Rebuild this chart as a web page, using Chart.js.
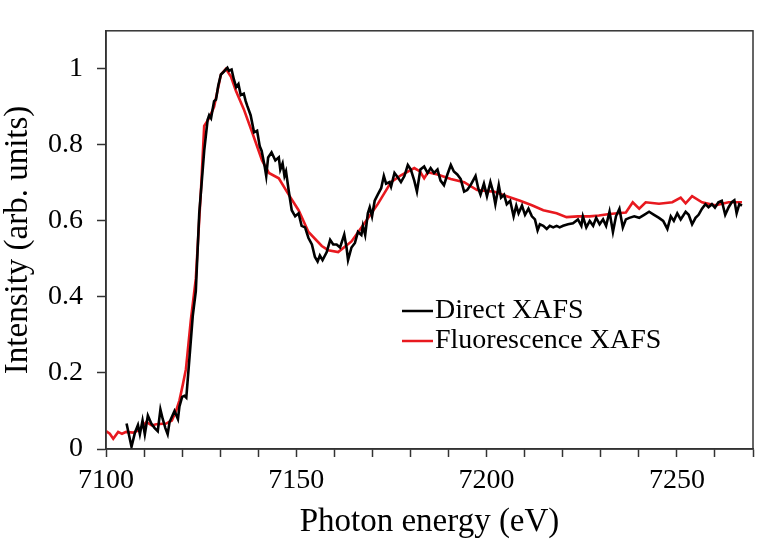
<!DOCTYPE html>
<html lang="en">
<head>
  <meta charset="UTF-8">
  <title>Direct vs Fluorescence XAFS</title>
  <script src="https://cdn.jsdelivr.net/npm/chart.js"></script>
  <style>
    html, body {
      margin: 0;
      padding: 0;
      background: #ffffff;
    }
    .chart-container {
      position: relative;
      width: 760px;
      height: 543px;
    }
  </style>
</head>
<body>

  <div class="chart-container">
    <canvas id="xafsChart"></canvas>
  </div>

  <script>
    // Direct XAFS (black, noisy)
    const directEnergy = [
      7105.4, 7106.7, 7107.6, 7108.4, 7108.9, 7109.6, 7110.2, 7111.0, 7111.9, 7112.8,
      7113.6, 7114.3, 7114.9, 7115.6, 7116.2, 7116.7, 7118.0, 7118.9, 7119.3, 7120.0,
      7120.6, 7121.1, 7121.9, 7122.8, 7123.6, 7124.5, 7125.8, 7126.7, 7127.1, 7127.6,
      7128.4, 7128.9, 7129.5, 7130.2, 7131.0, 7131.9, 7132.3, 7133.0, 7133.6, 7134.2,
      7134.8, 7135.4, 7136.2, 7136.7, 7137.1, 7138.0, 7138.9, 7139.7, 7140.4, 7140.9,
      7141.7, 7142.1, 7142.6, 7143.5, 7144.5, 7145.4, 7145.8, 7146.4, 7146.9, 7147.3,
      7148.0, 7148.8, 7149.7, 7150.6, 7151.4, 7152.3, 7153.2, 7154.1, 7154.9, 7155.6,
      7156.2, 7156.9, 7158.0, 7158.9, 7159.7, 7160.6, 7161.5, 7162.6, 7163.2, 7163.6,
      7164.5, 7165.4, 7166.2, 7167.1, 7167.5, 7168.1, 7168.8, 7169.3, 7169.9, 7170.6,
      7171.4, 7172.3, 7173.0, 7173.6, 7174.5, 7174.9, 7175.8, 7176.7, 7177.5, 7178.4,
      7179.3, 7180.1, 7181.0, 7181.7, 7182.6, 7183.6, 7184.5, 7185.3, 7186.2, 7187.1,
      7187.9, 7188.8, 7189.7, 7190.6, 7191.4, 7192.3, 7193.2, 7194.1, 7194.9, 7195.8,
      7197.1, 7197.8, 7198.4, 7199.3, 7200.1, 7201.0, 7201.7, 7202.3, 7203.2, 7203.8,
      7204.6, 7205.3, 7206.2, 7207.1, 7207.8, 7208.4, 7209.3, 7210.1, 7211.0, 7211.9,
      7212.7, 7213.4, 7214.0, 7214.9, 7215.8, 7216.6, 7217.5, 7218.4, 7219.2, 7220.1,
      7221.4, 7222.7, 7224.0, 7224.9, 7225.3, 7226.2, 7227.1, 7228.0, 7228.8, 7229.7,
      7230.6, 7231.4, 7232.3, 7233.2, 7234.0, 7234.9, 7235.8, 7236.6, 7237.5, 7238.8,
      7240.1, 7241.4, 7242.7, 7244.0, 7245.3, 7246.4, 7247.5, 7248.4, 7249.2, 7250.1,
      7251.0, 7252.3, 7253.1, 7254.0, 7254.9, 7255.7, 7256.6, 7257.5, 7258.3, 7259.2,
      7260.0, 7260.9, 7261.8, 7262.7, 7263.6, 7264.4, 7265.1, 7265.7, 7266.4, 7267.1
    ];
    const directIntensity = [
      0.067, 0.006, 0.043, 0.063, 0.039, 0.075, 0.039, 0.088, 0.067, 0.055,
      0.047, 0.104, 0.079, 0.055, 0.039, 0.071, 0.100, 0.079, 0.112, 0.137,
      0.140, 0.135, 0.236, 0.350, 0.415, 0.620, 0.784, 0.866, 0.878, 0.870,
      0.915, 0.919, 0.956, 0.985, 0.993, 1.003, 0.995, 0.998, 0.972, 0.952,
      0.960, 0.931, 0.935, 0.915, 0.903, 0.878, 0.833, 0.837, 0.796, 0.784,
      0.743, 0.718, 0.767, 0.780, 0.759, 0.767, 0.735, 0.751, 0.718, 0.730,
      0.680, 0.628, 0.612, 0.620, 0.587, 0.583, 0.555, 0.538, 0.505, 0.493,
      0.509, 0.497, 0.518, 0.550, 0.538, 0.538, 0.530, 0.564, 0.530, 0.497,
      0.530, 0.542, 0.571, 0.563, 0.587, 0.563, 0.620, 0.636, 0.612, 0.653,
      0.669, 0.686, 0.718, 0.698, 0.702, 0.690, 0.726, 0.714, 0.702, 0.718,
      0.747, 0.735, 0.706, 0.677, 0.735, 0.743, 0.726, 0.739, 0.726, 0.735,
      0.706, 0.694, 0.722, 0.747, 0.730, 0.722, 0.710, 0.677, 0.681, 0.694,
      0.718, 0.686, 0.669, 0.698, 0.665, 0.702, 0.677, 0.644, 0.694, 0.661,
      0.669, 0.644, 0.653, 0.612, 0.640, 0.620, 0.640, 0.616, 0.632, 0.612,
      0.604, 0.575, 0.591, 0.587, 0.579, 0.587, 0.583, 0.587, 0.583, 0.587,
      0.591, 0.594, 0.604, 0.587, 0.612, 0.583, 0.600, 0.587, 0.608, 0.591,
      0.604, 0.587, 0.624, 0.571, 0.612, 0.632, 0.583, 0.604, 0.608, 0.612,
      0.608, 0.616, 0.624, 0.616, 0.608, 0.600, 0.579, 0.612, 0.600, 0.620,
      0.604, 0.624, 0.616, 0.591, 0.608, 0.616, 0.632, 0.644, 0.636, 0.644,
      0.635, 0.649, 0.653, 0.616, 0.636, 0.649, 0.654, 0.620, 0.644, 0.640
    ];

    // Fluorescence XAFS (red, smoother)
    const fluorEnergy = [
      7100.0, 7101.0, 7101.9, 7103.2, 7104.2, 7105.3, 7107.1, 7108.8, 7110.6, 7112.0,
      7113.2, 7115.8, 7117.3, 7118.4, 7119.3, 7120.2, 7121.0, 7122.3, 7123.6, 7125.0,
      7125.8, 7127.1, 7128.4, 7130.2, 7131.5, 7132.8, 7134.1, 7136.2, 7138.4, 7141.0,
      7142.8, 7145.4, 7148.0, 7150.6, 7153.2, 7156.7, 7158.4, 7161.0, 7164.5, 7168.0,
      7171.4, 7174.9, 7177.5, 7181.0, 7182.5, 7183.6, 7184.6, 7187.1, 7190.6, 7194.1,
      7197.5, 7201.9, 7205.3, 7208.8, 7211.9, 7214.9, 7218.4, 7221.0, 7224.0, 7227.1,
      7229.5, 7232.3, 7236.6, 7238.4, 7240.1, 7241.8, 7245.3, 7248.8, 7251.0, 7252.3,
      7254.0, 7256.6, 7260.0, 7263.6, 7267.1
    ];
    const fluorIntensity = [
      0.047, 0.040, 0.027, 0.045, 0.040, 0.045, 0.043, 0.050, 0.071, 0.062,
      0.065, 0.067, 0.075, 0.100, 0.128, 0.170, 0.210, 0.340, 0.448, 0.690,
      0.850, 0.870, 0.900, 0.985, 1.000, 0.980, 0.943, 0.894, 0.833, 0.759,
      0.726, 0.712, 0.669, 0.628, 0.571, 0.534, 0.523, 0.518, 0.546, 0.595,
      0.644, 0.702, 0.720, 0.739, 0.730, 0.712, 0.728, 0.722, 0.710, 0.702,
      0.681, 0.677, 0.665, 0.653, 0.641, 0.628, 0.620, 0.610, 0.612, 0.612,
      0.614, 0.618, 0.622, 0.649, 0.632, 0.649, 0.645, 0.649, 0.661, 0.646,
      0.665, 0.649, 0.641, 0.649, 0.649
    ];

    const xTickLabels = [7100, 7150, 7200, 7250];
    const yTickLabels = [0, 0.2, 0.4, 0.6, 0.8, 1];
    const legendLabels = ['Direct XAFS', 'Fluorescence XAFS'];

    const serif = 'Liberation Serif, Times New Roman, serif';

    // frame around the plot + legend text inside it
    const framePlugin = {
      id: 'frame',
      afterDraw(chart) {
        const { ctx, chartArea: a } = chart;
        ctx.save();
        ctx.strokeStyle = '#333333';
        ctx.lineWidth = 1.5;
        ctx.strokeRect(a.left, a.top, a.right - a.left, a.bottom - a.top);

        const rows = [
          { text: legendLabels[0], color: '#000000', y: 311 },
          { text: legendLabels[1], color: '#e8191f', y: 341 }
        ];
        ctx.font = '28px ' + serif;
        ctx.textBaseline = 'middle';
        rows.forEach(r => {
          ctx.strokeStyle = r.color;
          ctx.lineWidth = 2.5;
          ctx.beginPath();
          ctx.moveTo(402, r.y);
          ctx.lineTo(433, r.y);
          ctx.stroke();
          ctx.fillStyle = '#000000';
          ctx.fillText(r.text, 435, r.y);
        });
        ctx.restore();
      }
    };

    new Chart(document.getElementById('xafsChart'), {
      type: 'line',
      data: {
        datasets: [
          {
            label: legendLabels[0],
            data: directEnergy.map((e, i) => ({ x: e, y: directIntensity[i] })),
            borderColor: '#000000',
            borderWidth: 2.6,
            pointRadius: 0,
            tension: 0
          },
          {
            label: legendLabels[1],
            data: fluorEnergy.map((e, i) => ({ x: e, y: fluorIntensity[i] })),
            borderColor: '#e8191f',
            borderWidth: 2.6,
            pointRadius: 0,
            tension: 0
          }
        ]
      },
      options: {
        responsive: true,
        maintainAspectRatio: false,
        animation: false,
        layout: { padding: { top: 1, right: 1, left: 0, bottom: 0 } },
        plugins: {
          legend: { display: false },
          tooltip: { enabled: false }
        },
        scales: {
          x: {
            type: 'linear',
            min: 7100,
            max: 7270,
            afterFit(scale) { scale.height = 94; },
            afterBuildTicks(scale) {
              const t = [];
              for (let v = 7100; v <= 7270; v += 10) t.push({ value: v });
              scale.ticks = t;
            },
            ticks: {
              autoSkip: false,
              maxRotation: 0,
              padding: 7,
              color: '#000000',
              font: { family: serif, size: 28 },
              callback: v => xTickLabels.includes(v) ? String(v) : ''
            },
            grid: {
              drawOnChartArea: false,
              drawTicks: true,
              tickLength: 8,
              tickColor: '#333333',
              tickWidth: 1.5
            },
            border: { display: true, color: '#333333', width: 1.5 },
            title: {
              display: true,
              text: 'Photon energy (eV)',
              color: '#000000',
              font: { family: serif, size: 33 },
              padding: { top: 0, bottom: 1 }
            }
          },
          y: {
            min: 0,
            max: 1.1,
            afterFit(scale) { scale.width = 106; },
            afterBuildTicks(scale) {
              scale.ticks = yTickLabels.map(v => ({ value: v }));
            },
            ticks: {
              padding: 14,
              color: '#000000',
              font: { family: serif, size: 28 },
              callback: v => String(Math.round(v * 10) / 10)
            },
            grid: {
              drawOnChartArea: false,
              drawTicks: true,
              tickLength: 9,
              tickColor: '#333333',
              tickWidth: 1.5
            },
            border: { display: true, color: '#333333', width: 1.5 },
            title: {
              display: true,
              text: 'Intensity (arb. units)',
              color: '#000000',
              font: { family: serif, size: 33, lineHeight: 1.1 },
              padding: { top: 0, bottom: 0 }
            }
          }
        }
      },
      plugins: [framePlugin]
    });
  </script>

</body>
</html>
